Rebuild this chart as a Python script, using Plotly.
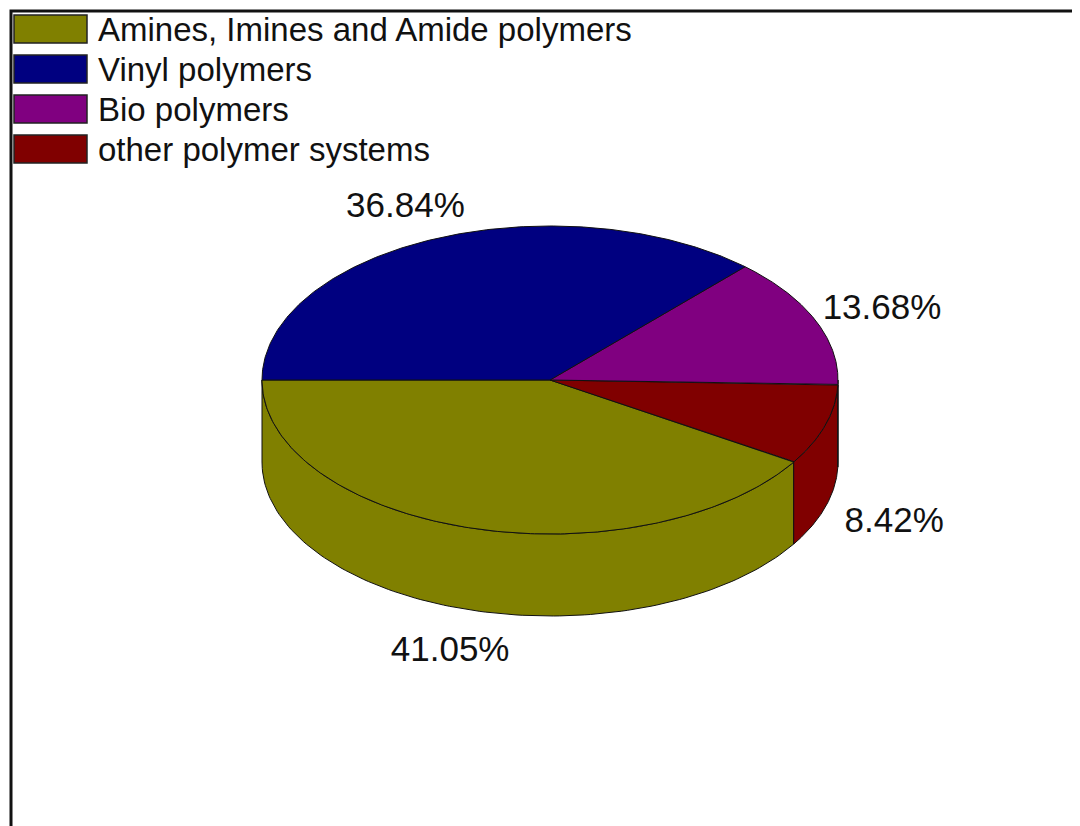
import numpy as np
import plotly.graph_objects as go

# ---- data ----
categories = ["Amines, Imines and Amide polymers", "Vinyl polymers",
              "Bio polymers", "other polymer systems"]
values = [41.05, 36.84, 13.68, 8.42]
pct_labels = ["41.05%", "36.84%", "13.68%", "8.42%"]
colors = ["#808000", "#000080", "#800080", "#800000"]
pie_order = [0, 3, 2, 1]   # counter-clockwise from 9 o'clock

# ---- geometry (layout, pixel-like axis units) ----
W, H = 1080, 826
OFF = 8   # page body margin
cx, cy, rx, ry, depth = 550, 380, 288, 154, 82
start = 180.0
FONT = "Arial, Liberation Sans, sans-serif"

def pt(t_deg, dy=0.0):
    t = np.radians(t_deg)
    return cx + rx * np.cos(t), cy - ry * np.sin(t) + dy

total = sum(values)
spans = []
a = start
for i in pie_order:
    b = a + values[i] / total * 360.0
    spans.append((i, a, b))
    a = b

fig = go.Figure()

# side walls (only the front half is visible)
for i, a, b in spans:
    for k in range(0, 3):
        lo = max(a, 180 + 360 * k)
        hi = min(b, 360 + 360 * k)
        if hi - lo <= 1e-6:
            continue
        ts = np.linspace(lo, hi, 120)
        xt, yt = pt(ts)
        xb, yb = pt(ts[::-1], depth)
        xs = np.concatenate([xt, xb, xt[:1]])
        ys = np.concatenate([yt, yb, yt[:1]])
        fig.add_trace(go.Scatter(x=xs, y=ys, mode="lines", fill="toself",
                                 fillcolor=colors[i],
                                 line=dict(color="#111111", width=1),
                                 hoverinfo="skip", showlegend=False))

# top faces
for i, a, b in spans:
    ts = np.linspace(a, b, 200)
    xa, ya = pt(ts)
    xs = np.concatenate([[cx], xa, [cx]])
    ys = np.concatenate([[cy], ya, [cy]])
    fig.add_trace(go.Scatter(x=xs, y=ys, mode="lines", fill="toself",
                             fillcolor=colors[i],
                             line=dict(color="#111111", width=1),
                             name=categories[i],
                             hoverinfo="name", showlegend=False))

# percentage labels
lx, ly, lt = [], [], []
for i, a, b in spans:
    m = (a + b) / 2
    x, y = pt(m)
    x = cx + 1.25 * (x - cx)
    y = cy + 1.25 * (y - cy)
    if np.sin(np.radians(m)) < 0:
        y += depth
    lx.append(x); ly.append(y + 5); lt.append(pct_labels[i])
fig.add_trace(go.Scatter(x=lx, y=ly, mode="text", text=lt,
                         textfont=dict(family=FONT, size=35, color="#111111"),
                         hoverinfo="skip", showlegend=False))

# manual legend
shapes = []
annotations = []
for r, i in enumerate(range(len(categories))):
    y0 = 15 + 40 * r
    shapes.append(dict(type="rect", xref="x", yref="y", x0=14, x1=87,
                       y0=y0, y1=y0 + 28, fillcolor=colors[i],
                       line=dict(color="#222222", width=1.5)))
    annotations.append(dict(x=96, y=y0 + 14, xref="x", yref="y",
                            text=categories[i], showarrow=False,
                            xanchor="left", yanchor="middle",
                            font=dict(family=FONT, size=33, color="#111111")))

# frame (open to the right and bottom, as in the cropped original)
shapes.append(dict(type="rect", xref="x", yref="y", x0=11, y0=11,
                   x1=W + 200, y1=H + 200, line=dict(color="#111111", width=3),
                   fillcolor="rgba(0,0,0,0)", layer="below"))

fig.update_layout(
    width=W - OFF, height=H - OFF, margin=dict(l=0, r=0, t=0, b=0),
    paper_bgcolor="white", plot_bgcolor="white",
    xaxis=dict(range=[OFF, W], visible=False, fixedrange=True),
    yaxis=dict(range=[H, OFF], visible=False, fixedrange=True),
    shapes=shapes, annotations=annotations, showlegend=False,
)

fig.write_html("out.html")
